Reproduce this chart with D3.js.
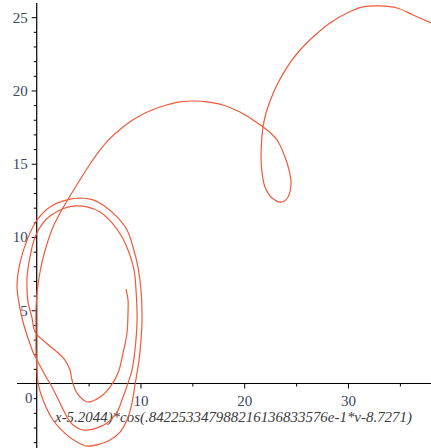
<!DOCTYPE html>
<html>
<head>
<meta charset="utf-8">
<script src="https://cdn.jsdelivr.net/npm/d3@7"></script>
<style>
  html, body { margin: 0; padding: 0; background: #ffffff; }
  svg { display: block; }
</style>
</head>
<body>
<svg id="chart" width="431" height="448"></svg>
<script>
// Parametric curve samples (x, y), in drawing order: the large arc entering from the right,
// the small loop near (23, 14), the arc over to the origin, then three nested turns that wind inward.
const curveX = [
  38.00, 36.27, 34.73, 33.09, 31.45, 29.91, 28.27,
  26.63, 25.47, 24.51, 23.74, 23.06, 22.53, 22.10, 21.81, 21.67, 21.62, 21.71, 22.00,
  22.68, 23.64, 24.22, 24.51, 24.32, 23.93, 23.16, 22.20, 20.85, 19.59, 17.96, 16.41, 15.26, 13.81,
  11.88, 10.44, 9.18, 8.03, 6.97, 6.00, 5.14, 4.37, 3.59, 2.92, 2.25, 1.57, 0.99, 0.51, 0.22, 0.03,
  -0.07, -0.07, -0.07, 0.03, 0.13, 0.61, 1.57, 2.92, 3.88, 4.85, 6.10, 7.06, 8.03,
  8.70, 9.18, 9.47, 9.86, 10.05, 10.15, 10.05, 9.76, 9.28, 8.70,
  7.74, 6.39, 5.43, 4.17, 2.92, 1.28, 0.03, -0.93, -1.61, -1.90,
  -1.71, -1.32, -0.84, -0.36, 0.13, 0.80, 1.47, 1.96, 2.92, 3.50,
  4.46, 5.43, 6.78, 7.74, 8.32, 8.80, 9.18, 9.47, 9.67, 9.57,
  9.38, 8.80, 8.22, 7.26, 6.10, 4.85, 3.69, 2.44, 1.28, 0.61,
  -0.16, -0.65, -0.93, -0.93, -0.84, -0.45, -0.16, 0.80, 1.96, 2.73,
  3.21, 3.40, 3.88, 4.94, 6.10, 7.06, 7.84, 8.32, 8.70, 8.80,
  8.80, 8.61
];
const curveY = [
  24.61, 25.15, 25.63, 25.77, 25.70, 25.29, 24.61,
  23.65, 22.83, 21.98, 21.13, 20.24, 19.35, 18.46, 17.51, 16.48, 15.46, 14.44, 13.41,
  12.66, 12.39, 12.73, 13.69, 14.57, 15.46, 16.62, 17.30, 17.99, 18.53, 19.01, 19.22, 19.28, 19.22,
  18.87, 18.46, 17.95, 17.34, 16.66, 15.84, 14.98, 14.13, 13.24, 12.46, 11.64, 10.68, 9.52, 8.29, 7.20, 6.18,
  5.02, 3.65, 2.29, 0.92, 0.03, -1.13, -2.49, -3.52, -3.99, -4.27, -4.13, -3.86, -3.31,
  -2.49, -1.33, -0.10, 1.60, 2.97, 4.33, 6.38, 7.95, 9.32, 10.48,
  11.37, 12.18, 12.53, 12.66, 12.53, 12.05, 11.16, 9.80, 8.23, 6.72,
  5.49, 4.20, 3.11, 2.15, 1.47, 0.58, -0.24, -0.92, -2.29, -2.83,
  -3.17, -3.11, -2.70, -1.95, -0.92, 0.03, 0.92, 2.29, 4.33, 6.38,
  7.75, 9.11, 10.00, 10.96, 11.71, 12.05, 12.12, 11.91, 11.43, 10.96,
  10.00, 8.63, 7.27, 6.38, 5.56, 4.47, 3.52, 2.83, 2.15, 1.60,
  0.92, 0.24, -0.65, -1.26, -0.92, -0.24, 0.72, 2.08, 3.45, 4.81,
  5.70, 6.45
];

// Axis ticks and labels
const xMajorTicks = [10, 20, 30];
const xMinorTicks = [5, 15, 25, 35];
const yMajorTicks = [5, 10, 15, 20, 25];
const yMinorTicks = [-4, -3, -2, -1, 1, 2, 3, 4, 6, 7, 8, 9, 11, 12, 13, 14, 16, 17, 18, 19, 21, 22, 23, 24];
const originLabel = "0";
const xAxisTitle = "x-5.2044)*cos(.842253347988216136833576e-1*v-8.7271)";

const svg = d3.select("#chart");

const x = d3.scaleLinear().domain([-1.9, 38]).range([17, 431]);
const y = d3.scaleLinear().domain([-4.4, 25.9]).range([448, 4]);

const labelFont = "'Liberation Serif', 'Times New Roman', serif";
const labelColor = "#3b4563";

// Axis lines through the origin
svg.append("line")
  .attr("x1", x(-1.9)).attr("x2", x(38))
  .attr("y1", y(0)).attr("y2", y(0))
  .attr("stroke", "#000").attr("stroke-width", 1.2);
svg.append("line")
  .attr("x1", x(0)).attr("x2", x(0))
  .attr("y1", y(25.9) - 1).attr("y2", y(-4.4))
  .attr("stroke", "#000").attr("stroke-width", 1.2);

function styleAxis(g) {
  g.select(".domain").remove();
  g.selectAll(".tick line").attr("stroke", "#000").attr("stroke-width", 1);
  g.selectAll(".tick text")
    .attr("fill", labelColor)
    .style("font-family", labelFont)
    .style("font-size", "15px");
}

// Y axis: minor and major ticks
svg.append("g")
  .attr("transform", `translate(${x(0)},0)`)
  .call(d3.axisLeft(y).tickValues(yMinorTicks).tickSize(3).tickFormat(""))
  .call(styleAxis);
svg.append("g")
  .attr("transform", `translate(${x(0)},0)`)
  .call(d3.axisLeft(y).tickValues(yMajorTicks).tickSize(5).tickPadding(4).tickFormat(d => String(d)))
  .call(styleAxis);

// X axis: minor and major ticks
svg.append("g")
  .attr("transform", `translate(0,${y(0)})`)
  .call(d3.axisBottom(x).tickValues(xMinorTicks).tickSize(3).tickFormat(""))
  .call(styleAxis);
svg.append("g")
  .attr("transform", `translate(0,${y(0)})`)
  .call(d3.axisBottom(x).tickValues(xMajorTicks).tickSize(5).tickPadding(7).tickFormat(d => String(d)))
  .call(styleAxis);

// Origin label
svg.append("text")
  .attr("x", x(0) - 8).attr("y", y(0) + 19)
  .attr("text-anchor", "middle")
  .attr("fill", labelColor)
  .style("font-family", labelFont)
  .style("font-size", "15px")
  .text(originLabel);

// Horizontal axis title
svg.append("text")
  .attr("x", 55).attr("y", 422)
  .attr("textLength", 357)
  .attr("lengthAdjust", "spacingAndGlyphs")
  .attr("fill", "#3a3a3a")
  .style("font-family", labelFont)
  .style("font-style", "italic")
  .style("font-size", "15px")
  .text(xAxisTitle);

// The curve
const pts = curveX.map((vx, i) => [vx, curveY[i]]);
const line = d3.line()
  .x(d => x(d[0]))
  .y(d => y(d[1]))
  .curve(d3.curveCatmullRom.alpha(0.5));

svg.append("path")
  .datum(pts)
  .attr("d", line)
  .attr("fill", "none")
  .attr("stroke", "#ef5a3a")
  .attr("stroke-width", 1.2)
  .attr("stroke-linejoin", "round");
</script>
</body>
</html>
